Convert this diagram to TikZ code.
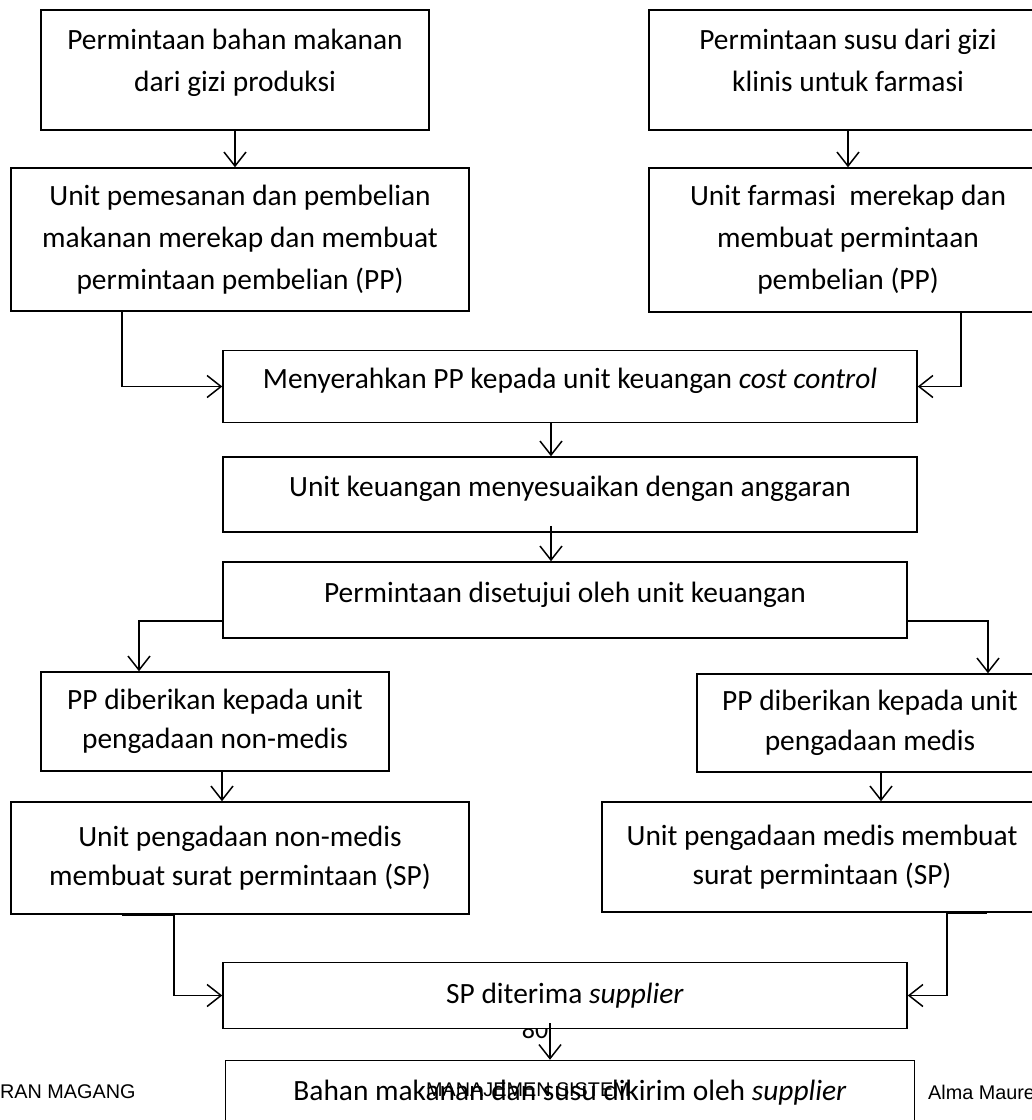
\documentclass[tikz,border=0pt]{standalone}
\usepackage{fontspec}
\setmainfont{Carlito}
\newfontfamily\footfont{Liberation Sans}
\usetikzlibrary{arrows.meta}

\begin{document}
\begin{tikzpicture}[x=1pt,y=-1pt,
  >={Straight Barb[length=14pt,width=22pt]},
  box/.style={draw,line width=1.5pt,fill=white,align=center,inner sep=0pt,
    font=\fontsize{29.4pt}{42pt}\selectfont},
  tight/.style={font=\fontsize{29.4pt}{39.5pt}\selectfont},
  tophalf/.style={text height=63pt,text depth=20pt},
  oneline/.style={text height=21pt,text depth=17pt},
  flow/.style={line width=1.5pt,->},
  foot/.style={font=\footfont\fontsize{19.8pt}{24pt}\selectfont,inner sep=0pt}
]
  \clip (0,0) rectangle (1032,1120);

  % permintaan dari gizi
  \node[box,tophalf,minimum width=388pt,minimum height=120pt] (prod) at (235,70)
    {Permintaan bahan makanan\\dari gizi produksi};
  \node[box,tophalf,minimum width=398pt,minimum height=120pt] (klin) at (848,70)
    {Permintaan susu dari gizi\\klinis untuk farmasi};
  \node[box,minimum width=458pt,minimum height=143pt] (rekapL) at (240,239.5)
    {Unit pemesanan dan pembelian\\makanan merekap dan membuat\\permintaan pembelian (PP)};
  \node[box,minimum width=398pt,minimum height=144pt] (rekapR) at (848,240)
    {Unit farmasi\ \ merekap dan\\membuat permintaan\\pembelian (PP)};

  % keuangan
  \node[box,oneline,minimum width=694pt,minimum height=72pt] (serah) at (570,386.5)
    {Menyerahkan PP kepada unit keuangan \textit{cost control}};
  \node[box,oneline,minimum width=694pt,minimum height=75pt] (sesuai) at (570,494.5)
    {Unit keuangan menyesuaikan dengan anggaran};
  \node[box,oneline,minimum width=684pt,minimum height=76pt] (setuju) at (565,600)
    {Permintaan disetujui oleh unit keuangan};

  % pengadaan
  \node[box,tight,minimum width=348pt,minimum height=99pt] (ppL) at (215,721.5)
    {PP diberikan kepada unit\\pengadaan non-medis};
  \node[box,tight,minimum width=346pt,minimum height=98pt] (ppR) at (870,723)
    {PP diberikan kepada unit\\pengadaan medis};
  \node[box,tight,minimum width=458pt,minimum height=112pt] (spL) at (240,858)
    {Unit pengadaan non-medis\\membuat surat permintaan (SP)};
  \node[box,tight,minimum width=440pt,minimum height=110pt] (spR) at (822,857)
    {Unit pengadaan medis membuat\\surat permintaan (SP)};

  \node[font=\fontsize{26pt}{30pt}\selectfont,inner sep=0pt] (pagenum) at (535,1030) {80};
  \node[box,minimum width=684pt,minimum height=66pt] (terima) at (565,995.5)
    {SP diterima \textit{supplier}};

  \draw[flow] (prod.south) -- (prod.south |- rekapL.north);
  \draw[flow] (klin.south) -- (klin.south |- rekapR.north);
  \draw[flow] ([xshift=-118pt]rekapL.south) |- (serah.west);
  \draw[flow] ([xshift=113pt]rekapR.south) |- (serah.east);
  \draw[flow] ([xshift=-19pt]serah.south) -- ([xshift=-19pt]serah.south |- sesuai.north);
  \draw[flow] ([xshift=-19pt,yshift=7pt]sesuai.south) -- ([xshift=-19pt]sesuai.south |- setuju.north);
  \draw[flow] ([yshift=-21pt]setuju.west) -| ([xshift=-76pt]ppL.north);
  \draw[flow] ([yshift=-21pt]setuju.east) -| ([xshift=118pt]ppR.north);
  \draw[flow] ([xshift=7pt]ppL.south) -- ([xshift=7pt]ppL.south |- spL.north);
  \draw[flow] ([xshift=11pt]ppR.south) -- ([xshift=11pt]ppR.south |- spR.north);
  \draw[line width=3pt] ([xshift=-118pt]spL.south) -- ([xshift=-66pt]spL.south);
  \draw[line width=3pt] ([xshift=125pt]spR.south) -- ([xshift=165pt]spR.south);
  \draw[flow] ([xshift=-66pt]spL.south) |- (terima.west);
  \draw[flow] ([xshift=125pt]spR.south) |- (terima.east);

  \node[box,oneline,minimum width=689pt,minimum height=75pt] (kirim) at (570,1098)
    {Bahan makanan dan susu dikirim oleh \textit{supplier}};
  \draw[flow] ([xshift=-15pt,yshift=6pt]terima.south) -- ([xshift=-15pt]terima.south |- kirim.north);

  % kaki halaman
  \node[foot,anchor=west] (footL) at (0,1092) {RAN MAGANG};
  \node[foot] (footM) at (528,1090) {MANAJEMEN SISTEM};
  \node[foot,anchor=west] (footR) at (928,1092) {Alma Maure};
\end{tikzpicture}
\end{document}
